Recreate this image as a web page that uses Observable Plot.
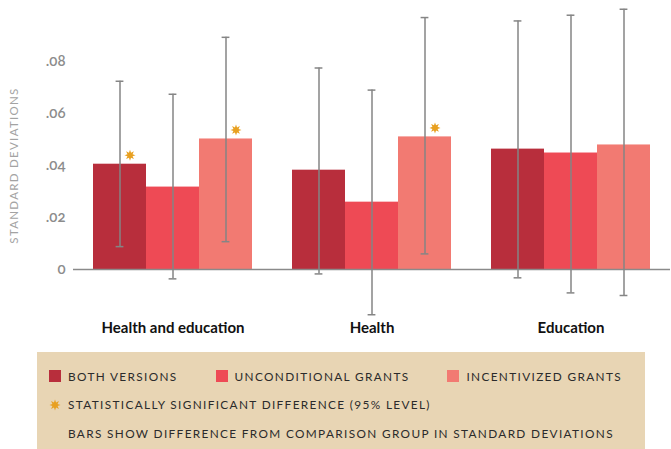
<!DOCTYPE html>
<html><head><meta charset="utf-8">
<script src="https://cdn.jsdelivr.net/npm/d3@7"></script>
<script src="https://cdn.jsdelivr.net/npm/@observablehq/plot@0.6"></script>
<style>
body{margin:0;background:#fff;font-family:Lato,"Open Sans",sans-serif;}
#chart svg{display:block}
g[aria-label="y-axis tick label"] text{font-variant-numeric:oldstyle-nums;}
g[aria-label="y-axis label"] text{letter-spacing:1.3px;font-size:11.5px;fill:#a3a3a3;font-weight:400;}
.legend{margin:7px 0 0 37px;width:608px;height:97px;background:#e8d5b4;box-sizing:border-box;padding:10px 0 0 12px;font-size:11.8px;letter-spacing:1.35px;color:#2b2b2b;text-transform:uppercase;}
.row{display:flex;align-items:center;height:28.5px;white-space:nowrap;}
.item{display:flex;align-items:center;margin-right:38px;}
.sw{width:12px;height:12px;margin-right:7px;}
.ind{padding-left:19px;}
.star{width:12px;margin-right:7px;display:block}
</style></head>
<body>
<div id="chart"></div>
<div class="legend" id="legend"></div>
<script>
const groups = ["Health and education", "Health", "Education"];
const series = ["Both versions", "Unconditional grants", "Incentivized grants"];
const colors = ["#b82e3c", "#ee4a55", "#f27a72"];
const starColor = "#e8a020";
const bothValues = [0.0405, 0.0382, 0.0463];
const uncondValues = [0.0317, 0.0259, 0.0448];
const incentValues = [0.0502, 0.0510, 0.0479];
const bothLow = [0.0088, -0.0017, -0.0032];
const uncondLow = [-0.0036, -0.0174, -0.0090];
const incentLow = [0.0107, 0.0060, -0.0100];
const bothHigh = [0.0724, 0.0775, 0.0956];
const uncondHigh = [0.0674, 0.0690, 0.0978];
const incentHigh = [0.0893, 0.0969, 0.1001];
const bothSig = [true, false, false];
const uncondSig = [false, false, false];
const incentSig = [true, true, false];
const yTicks = [0, 0.02, 0.04, 0.06, 0.08];
const yLabel = "STANDARD DEVIATIONS";
const legendStarText = "Statistically significant difference (95% level)";
const legendNote = "Bars show difference from comparison group in standard deviations";

const values = [bothValues, uncondValues, incentValues];
const lows = [bothLow, uncondLow, incentLow];
const highs = [bothHigh, uncondHigh, incentHigh];
const sigs = [bothSig, uncondSig, incentSig];

const table = groups.flatMap((g, gi) => series.map((s, si) => ({
  group: g, series: s, value: values[si][gi], lo: lows[si][gi], hi: highs[si][gi], sig: sigs[si][gi]
})));

const star = {
  draw(context, size) {
    const R = Math.sqrt(size / Math.PI), r = R * 0.5;
    for (let i = 0; i < 16; i++) {
      const a = i * Math.PI / 8 - Math.PI / 2, rr = i % 2 ? r : R;
      const x = rr * Math.cos(a), y = rr * Math.sin(a);
      if (i === 0) context.moveTo(x, y); else context.lineTo(x, y);
    }
    context.closePath();
  }
};

const fmt = d => d === 0 ? "0" : d3.format(".2f")(d).replace(/^0/, "");
const errStroke = "#858585";

const chart = Plot.plot({
  width: 671, height: 345,
  marginLeft: 72, marginRight: 0, marginTop: 9, marginBottom: 24,
  style: {fontFamily: "Lato, sans-serif", background: "#fff"},
  fx: {domain: groups, paddingInner: 0.2, paddingOuter: 0.1, label: null},
  x: {domain: series, padding: 0, axis: null},
  y: {domain: [-0.02, 0.1]},
  color: {domain: series, range: colors},
  marks: [
    Plot.axisY({ticks: yTicks, tickSize: 0, tickPadding: 28, tickFormat: fmt, fontSize: 15, fontWeight: 600, fill: "#8c8c8c",
      label: yLabel, labelAnchor: "center", labelOffset: 84, labelArrow: "none"}),
    Plot.axisFx({anchor: "bottom", tickSize: 0, tickPadding: 1, fontSize: 15, fontWeight: "bold", fill: "#111", label: null}),
    Plot.barY(table, {fx: "group", x: "series", y: "value", fill: "series"}),
    Plot.ruleY([0], {stroke: "#8a8a8a", strokeWidth: 1.5, insetLeft: -20, insetRight: -20}),
    Plot.ruleX(table, {fx: "group", x: "series", y1: "lo", y2: "hi", stroke: errStroke, strokeWidth: 1.5}),
    Plot.tickY(table, {fx: "group", x: "series", y: "lo", stroke: errStroke, strokeWidth: 1.5, insetLeft: 22.6, insetRight: 22.6}),
    Plot.tickY(table, {fx: "group", x: "series", y: "hi", stroke: errStroke, strokeWidth: 1.5, insetLeft: 22.6, insetRight: 22.6}),
    Plot.dot(table.filter(d => d.sig), {fx: "group", x: "series", y: "value", symbol: star, r: 5.5, fill: starColor, stroke: "none", dx: 10, dy: -9})
  ]
});
document.getElementById("chart").append(chart);

// legend
const legend = document.getElementById("legend");
const row1 = document.createElement("div"); row1.className = "row";
series.forEach((s, i) => {
  const it = document.createElement("div"); it.className = "item";
  const sw = document.createElement("div"); sw.className = "sw"; sw.style.background = colors[i];
  const t = document.createElement("span"); t.textContent = s;
  it.append(sw, t); row1.append(it);
});
const row2 = document.createElement("div"); row2.className = "row";
const p = d3.path(); star.draw(p, Math.PI * 6.5 * 6.5);
const svg = d3.create("svg").attr("class", "star").attr("width", 14).attr("height", 14).attr("viewBox", "-7 -7 14 14");
svg.append("path").attr("d", p.toString()).attr("fill", starColor);
const t2 = document.createElement("span"); t2.textContent = legendStarText;
row2.append(svg.node(), t2);
const row3 = document.createElement("div"); row3.className = "row ind";
row3.textContent = legendNote;
legend.append(row1, row2, row3);
</script>
</body></html>
